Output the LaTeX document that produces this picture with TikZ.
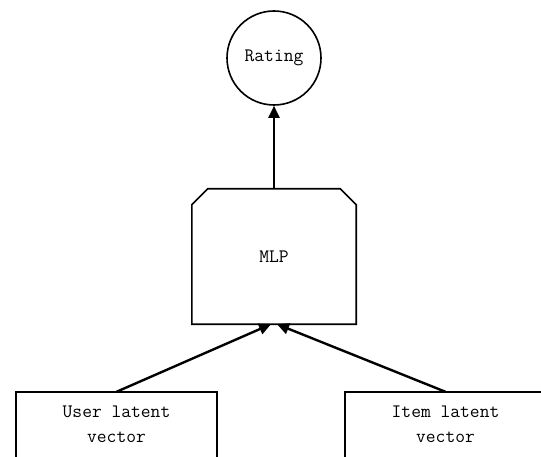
\documentclass[tikz,border=0pt]{standalone}
\usepackage{fontspec}
\usetikzlibrary{arrows.meta,calc}
\begin{document}
\begin{tikzpicture}[x=1pt,y=-1pt,
  txt/.style={font=\ttfamily\fontsize{19}{25}\selectfont, align=center, inner sep=0pt},
  outline/.style={line width=1.6pt, line join=miter},
  flow/.style={line width=2.4pt, -{Triangle[length=12pt,width=11pt]}}]
  \useasboundingbox (0,0) rectangle (541,457);
  \clip (0,0) rectangle (541,457);
  \fill[white] (0,0) rectangle (541,457);

  % output unit
  \node[txt, circle, draw, line width=1.6pt, minimum size=94pt] (rating) at (274,58) {Rating};

  % multilayer perceptron block with chamfered top corners
  \node[txt, minimum width=164pt, minimum height=135pt] (mlp) at (274,256.5) {MLP};
  \draw[outline] ($(mlp.north west)+(0,16)$) -- ($(mlp.north west)+(16,0)$)
    -- ($(mlp.north east)+(-16,0)$) -- ($(mlp.north east)+(0,16)$)
    -- (mlp.south east) -- (mlp.south west) -- cycle;

  % input embeddings (open at the bottom)
  \node[txt, minimum width=201pt, minimum height=65pt] (user) at (116.5,424.5) {User latent\\vector};
  \node[txt, minimum width=201pt, minimum height=65pt] (item) at (445.5,424.5) {Item latent\\vector};
  \draw[outline] ($(user.south west)+(0,10)$) -- (user.north west) -- (user.north east) -- ($(user.south east)+(0,10)$);
  \draw[outline] ($(item.south west)+(0,10)$) -- (item.north west) -- (item.north east) -- ($(item.south east)+(0,10)$);

  % connectors
  \draw[flow] (user.north) -- ($(mlp.south)+(-3,0)$);
  \draw[flow] (item.north) -- ($(mlp.south)+(3,0)$);
  \draw[flow] (mlp.north) -- (rating.south);
\end{tikzpicture}
\end{document}
